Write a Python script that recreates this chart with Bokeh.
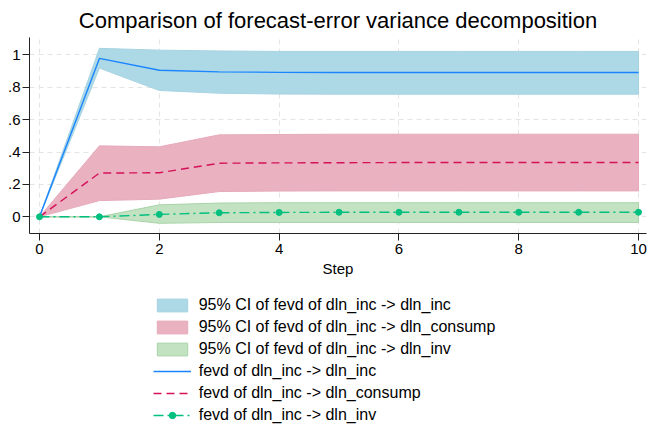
from bokeh.plotting import figure
from bokeh.models import Legend, LegendItem, Range1d, FixedTicker
from bokeh.layouts import column
from bokeh.embed import file_html
from bokeh.resources import INLINE

# ---- data ----
steps = [0, 1, 2, 3, 4, 5, 6, 7, 8, 9, 10]

fevd_inc = [0, 0.978, 0.905, 0.895, 0.892, 0.891, 0.891, 0.891, 0.891, 0.891, 0.891]
inc_lo = [0, 0.918, 0.780, 0.763, 0.758, 0.757, 0.757, 0.757, 0.757, 0.757, 0.757]
inc_hi = [0, 1.040, 1.029, 1.024, 1.021, 1.021, 1.021, 1.021, 1.021, 1.021, 1.021]

fevd_cons = [0, 0.270, 0.272, 0.331, 0.333, 0.334, 0.335, 0.335, 0.335, 0.335, 0.335]
cons_lo = [0, 0.100, 0.109, 0.156, 0.159, 0.160, 0.160, 0.160, 0.160, 0.160, 0.160]
cons_hi = [0, 0.438, 0.432, 0.506, 0.508, 0.510, 0.510, 0.510, 0.510, 0.510, 0.510]

fevd_inv = [0, 0.0, 0.015, 0.025, 0.027, 0.028, 0.028, 0.028, 0.028, 0.028, 0.028]
inv_lo = [0, 0.0, -0.040, -0.035, -0.035, -0.035, -0.035, -0.035, -0.035, -0.035, -0.035]
inv_hi = [0, 0.0, 0.074, 0.085, 0.087, 0.087, 0.087, 0.087, 0.087, 0.087, 0.087]

y_ticks = [0, 0.2, 0.4, 0.6, 0.8, 1]
y_tick_labels = ["0", ".2", ".4", ".6", ".8", "1"]
x_ticks = [0, 2, 4, 6, 8, 10]

labels = [
    "95% CI of fevd of dln_inc -> dln_inc",
    "95% CI of fevd of dln_inc -> dln_consump",
    "95% CI of fevd of dln_inc -> dln_inv",
    "fevd of dln_inc -> dln_inc",
    "fevd of dln_inc -> dln_consump",
    "fevd of dln_inc -> dln_inv",
]

FONT = "Liberation Sans"

# styles
CI_STYLES = [
    dict(fill_color="#ADD8E6", line_color="#A6D3E2", line_width=1),
    dict(fill_color="#EAB1C1", line_color="#E6ABBB", line_width=1),
    dict(fill_color="#C2E2C2", line_color="#A9D4A9", line_width=1),
]
LINE_STYLES = [
    dict(line_color="#1A85FF", line_width=1.4),
    dict(line_color="#D41159", line_width=1.4, line_dash="8 5"),
    dict(line_color="#00BF7F", line_width=1.4, line_dash="10 4 2 4"),
]
MARK_STYLE = dict(size=6, marker="circle", fill_color="#00BF7F", line_color="#00BF7F")


def band(lo, hi):
    return steps + steps[::-1], hi + lo[::-1]


bands = [band(inc_lo, inc_hi), band(cons_lo, cons_hi), band(inv_lo, inv_hi)]
series = [fevd_inc, fevd_cons, fevd_inv]


def draw(fig):
    ci = [fig.patch(bx, by, **st) for (bx, by), st in zip(bands, CI_STYLES)]
    ln = [fig.line(steps, s, **st) for s, st in zip(series, LINE_STYLES)]
    mk = fig.scatter(steps, fevd_inv, **MARK_STYLE)
    return ci, ln, mk


# ---- main chart ----
p = figure(
    width=647, height=282,
    x_range=Range1d(-0.167, 10.133), y_range=Range1d(-0.103, 1.107),
    output_backend="svg", toolbar_location=None,
    min_border_left=29, min_border_right=1, min_border_top=37, min_border_bottom=49,
    title="Comparison of forecast-error variance decomposition",
)
p.outline_line_color = None
p.background_fill_color = "white"
p.border_fill_color = "white"

p.title.text_font = FONT
p.title.text_font_size = "22px"
p.title.text_font_style = "normal"
p.title.align = "center"
p.title.text_color = "black"
p.title.standoff = 9

p.xaxis.ticker = FixedTicker(ticks=x_ticks)
p.yaxis.ticker = FixedTicker(ticks=y_ticks)
p.yaxis.major_label_overrides = {t: l for t, l in zip(y_ticks, y_tick_labels)}
p.xaxis.axis_label = "Step"
for ax in (p.xaxis[0], p.yaxis[0]):
    ax.major_label_text_font = FONT
    ax.major_label_text_font_size = "15px"
    ax.major_label_text_color = "black"
    ax.axis_label_text_font = FONT
    ax.axis_label_text_font_size = "15px"
    ax.axis_label_text_font_style = "normal"
    ax.axis_label_text_color = "black"
    ax.axis_line_color = "#222222"
    ax.major_tick_line_color = "#222222"
    ax.major_tick_out = 7
    ax.major_tick_in = 0
    ax.minor_tick_out = 0
    ax.minor_tick_in = 0
p.yaxis.major_label_orientation = "horizontal"
p.yaxis.major_label_standoff = 2
p.xaxis.major_label_standoff = 3
p.xaxis.axis_label_standoff = 3

for g in (p.xgrid[0], p.ygrid[0]):
    g.grid_line_color = "#e4e4e4"
    g.grid_line_dash = "5 4"
    g.grid_line_width = 1

draw(p)

# ---- legend strip below the chart ----
p2 = figure(
    width=647, height=142,
    x_range=Range1d(100, 101), y_range=Range1d(100, 101),
    output_backend="svg", toolbar_location=None,
    x_axis_type=None, y_axis_type=None,
    min_border_left=0, min_border_right=0, min_border_top=0, min_border_bottom=0,
)
p2.outline_line_color = None
p2.grid.visible = False
p2.background_fill_color = "white"
p2.border_fill_color = "white"

ci2, ln2, mk2 = draw(p2)

legend = Legend(
    items=[
        LegendItem(label=labels[0], renderers=[ci2[0]]),
        LegendItem(label=labels[1], renderers=[ci2[1]]),
        LegendItem(label=labels[2], renderers=[ci2[2]]),
        LegendItem(label=labels[3], renderers=[ln2[0]]),
        LegendItem(label=labels[4], renderers=[ln2[1]]),
        LegendItem(label=labels[5], renderers=[ln2[2], mk2]),
    ],
    location=(123.7, 0.3),
    orientation="vertical",
    glyph_width=38, glyph_height=16, label_height=16,
    label_standoff=8, spacing=4, padding=0, margin=0,
    label_text_font=FONT, label_text_font_size="16px", label_text_color="black",
    border_line_color=None, background_fill_alpha=0,
)
p2.add_layout(legend)

layout = column(p, p2, spacing=0)
open("out.html", "w").write(file_html(layout, INLINE))
